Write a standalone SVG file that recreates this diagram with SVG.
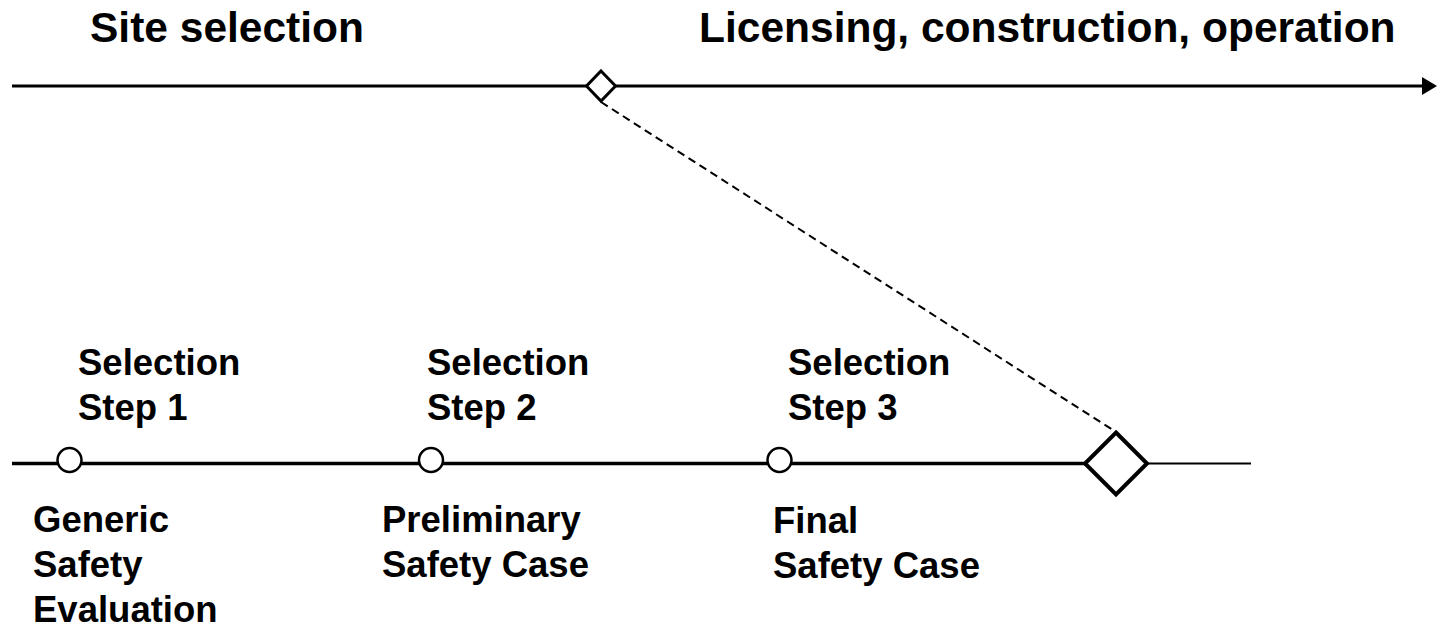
<svg xmlns="http://www.w3.org/2000/svg" width="1437" height="628" viewBox="0 0 1437 628">
<style>
text{font-family:"Liberation Sans",Arial,sans-serif;font-weight:bold;fill:#000}
.h{font-size:42.5px}
.l{font-size:36.5px}
.ln{stroke:#000;fill:none}
.ms{fill:#fff;stroke:#000}
</style>
<rect width="1437" height="628" fill="#fff"/>
<g id="connectors">
<line class="ln" x1="12" y1="86" x2="1426" y2="86" stroke-width="3"/>
<polygon points="1422,77 1437,86 1422,95" fill="#000"/>
<line class="ln" x1="12" y1="463.5" x2="1116" y2="463.5" stroke-width="3.5"/>
<line class="ln" x1="1116" y1="463.5" x2="1251" y2="463.5" stroke-width="2"/>
<line class="ln" x1="601" y1="102" x2="1116" y2="432" stroke-width="2" stroke-dasharray="8,5"/>
</g>
<g id="header-site"><text class="h" x="90" y="42">Site selection</text></g>
<g id="header-licensing"><text class="h" x="699" y="42">Licensing, construction, operation</text></g>
<g id="milestone-top"><polygon class="ms" points="601,71 615.5,86 601,101 586.5,86" stroke-width="3"/></g>
<g id="milestone-bottom"><polygon class="ms" points="1116,432.5 1147,463.5 1116,494.5 1085,463.5" stroke-width="4"/></g>
<g id="step1">
<circle class="ms" cx="69.5" cy="460" r="12" stroke-width="2.5"/>
<text class="l" x="78" y="375">Selection</text>
<text class="l" x="78" y="420">Step 1</text>
<text class="l" x="33" y="532">Generic</text>
<text class="l" x="33" y="577">Safety</text>
<text class="l" x="33" y="622">Evaluation</text>
</g>
<g id="step2">
<circle class="ms" cx="431" cy="460" r="12" stroke-width="2.5"/>
<text class="l" x="427" y="375">Selection</text>
<text class="l" x="427" y="420">Step 2</text>
<text class="l" x="382" y="532">Preliminary</text>
<text class="l" x="382" y="577">Safety Case</text>
</g>
<g id="step3">
<circle class="ms" cx="779.5" cy="460" r="12" stroke-width="2.5"/>
<text class="l" x="788" y="375">Selection</text>
<text class="l" x="788" y="420">Step 3</text>
<text class="l" x="773" y="533">Final</text>
<text class="l" x="773" y="578">Safety Case</text>
</g>
</svg>
